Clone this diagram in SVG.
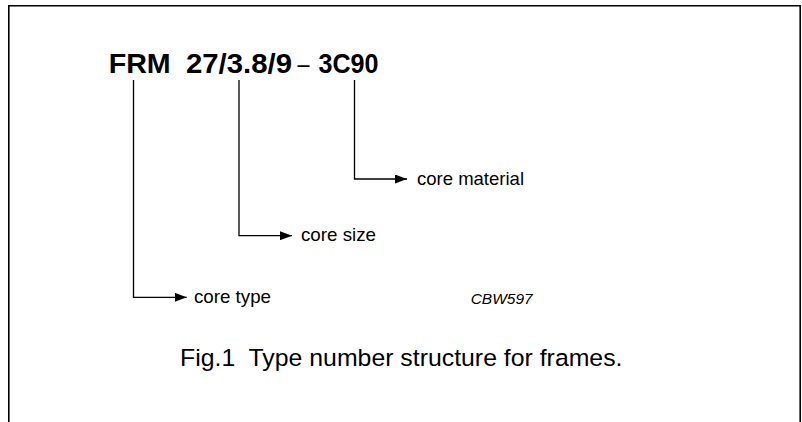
<svg xmlns="http://www.w3.org/2000/svg" width="802" height="422" viewBox="0 0 802 422">
<style>
.t{font-family:"Liberation Sans",Arial,sans-serif;fill:#000}
.b{font-weight:bold;font-size:28px}
.lbl{font-size:18.6px}
.ln{fill:none;stroke:#000;stroke-width:1.3}
</style>
<defs>
<marker id="ah" viewBox="0 0 12 9" refX="12" refY="4.5" markerWidth="12" markerHeight="9" markerUnits="userSpaceOnUse" orient="auto">
<path d="M0,0 L12,4.5 L0,9 Z" fill="#000"/>
</marker>
</defs>
<rect x="0" y="0" width="802" height="422" fill="#fff"/>
<path d="M8.8,430 V5.7 H800.2 V430" fill="none" stroke="#000" stroke-width="1.6"/>
<g id="title">
<text class="t b" x="108.7" y="72.7" textLength="62" lengthAdjust="spacingAndGlyphs">FRM</text>
<text class="t b" x="186" y="72.7" textLength="106" lengthAdjust="spacingAndGlyphs">27/3.8/9</text>
<text class="t" x="297.5" y="72.7" font-size="26" textLength="12" lengthAdjust="spacingAndGlyphs">–</text>
<text class="t b" x="318.5" y="72.7" textLength="60" lengthAdjust="spacingAndGlyphs">3C90</text>
</g>
<g id="connectors">
<path class="ln" d="M133.5,80 V297.3 H186.7" marker-end="url(#ah)"/>
<path class="ln" d="M239,80 V235.7 H292" marker-end="url(#ah)"/>
<path class="ln" d="M354.5,80 V179 H407" marker-end="url(#ah)"/>
</g>
<g id="core-type"><text class="t lbl" x="194" y="303.3" textLength="77" lengthAdjust="spacingAndGlyphs">core type</text></g>
<g id="core-size"><text class="t lbl" x="301" y="241" textLength="75" lengthAdjust="spacingAndGlyphs">core size</text></g>
<g id="core-material"><text class="t lbl" x="417" y="185" textLength="107" lengthAdjust="spacingAndGlyphs">core material</text></g>
<g id="code"><text class="t" x="470.7" y="304" font-size="15" font-style="italic" textLength="62" lengthAdjust="spacingAndGlyphs">CBW597</text></g>
<g id="caption"><text class="t" x="180" y="366" font-size="24.5" xml:space="preserve" textLength="442.5" lengthAdjust="spacingAndGlyphs">Fig.1  Type number structure for frames.</text></g>
</svg>
